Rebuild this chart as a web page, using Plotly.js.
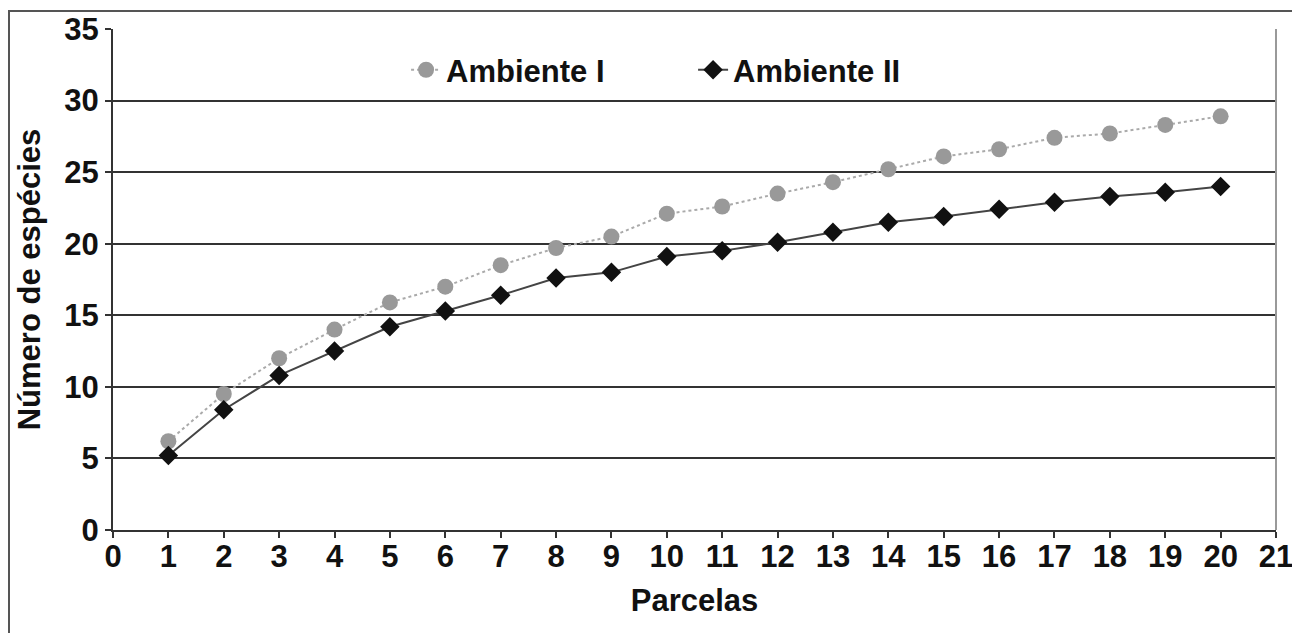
<!DOCTYPE html>
<html>
<head>
<meta charset="utf-8">
<script src="https://cdn.plot.ly/plotly-3.0.1.min.js"></script>
<style>
  html, body { margin: 0; padding: 0; background: #fff; overflow: hidden; }
  #frame { position: absolute; left: 8px; top: 10px; width: 1290px; height: 640px; border: 2px solid #555; box-sizing: border-box; pointer-events: none; z-index: 5; }
  #chart { position: absolute; left: 0; top: 0; width: 1292px; height: 633px; }
</style>
</head>
<body>
<div id="chart"></div>
<div id="frame"></div>
<script>
const parcelas = [1,2,3,4,5,6,7,8,9,10,11,12,13,14,15,16,17,18,19,20];
const ambienteI = [6.2,9.5,12.0,14.0,15.9,17.0,18.5,19.7,20.5,22.1,22.6,23.5,24.3,25.2,26.1,26.6,27.4,27.7,28.3,28.9];
const ambienteII = [5.2,8.4,10.8,12.5,14.2,15.3,16.4,17.6,18.0,19.1,19.5,20.1,20.8,21.5,21.9,22.4,22.9,23.3,23.6,24.0];
const xTicks = [0,1,2,3,4,5,6,7,8,9,10,11,12,13,14,15,16,17,18,19,20,21];
const yTicks = [0,5,10,15,20,25,30,35];

const font = {family: 'Liberation Sans, Arial, sans-serif', size: 31, color: '#111', weight: 700};

const traces = [
  {
    x: parcelas, y: ambienteI, name: 'Ambiente I', type: 'scatter', mode: 'lines+markers',
    line: {color: '#aaaaaa', width: 2, dash: 'dot'},
    marker: {symbol: 'circle', size: 16, color: '#999999'}
  },
  {
    x: parcelas, y: ambienteII, name: 'Ambiente II', type: 'scatter', mode: 'lines+markers',
    line: {color: '#444444', width: 2},
    marker: {symbol: 'diamond', size: 15, color: '#111111'}
  }
];

const layout = {
  width: 1292, height: 633,
  margin: {l: 113, r: 16, t: 29, b: 103},
  paper_bgcolor: '#ffffff', plot_bgcolor: '#ffffff',
  font: font,
  showlegend: true,
  legend: {
    orientation: 'h', x: 0.252, y: 0.918, xanchor: 'left', yanchor: 'middle',
    bgcolor: 'rgba(0,0,0,0)', font: font, itemwidth: 30, entrywidth: 242
  },
  xaxis: {
    range: [0, 21], tickvals: xTicks, ticktext: xTicks.map(String),
    showgrid: false, zeroline: false,
    showline: true, linecolor: '#333', linewidth: 2,
    ticks: 'outside', ticklen: 6, tickwidth: 2, tickcolor: '#333',
    tickfont: font, ticklabeloverflow: 'allow', ticklabelstandoff: -8,
    title: {text: 'Parcelas', font: font, standoff: 16}
  },
  yaxis: {
    range: [0, 35], tickvals: yTicks, ticktext: yTicks.map(String),
    showgrid: true, gridcolor: '#333', gridwidth: 2, zeroline: false,
    showline: true, linecolor: '#333', linewidth: 2,
    ticks: 'outside', ticklen: 6, tickwidth: 2, tickcolor: '#333',
    tickfont: font,
    title: {text: 'Número de espécies', font: font, standoff: 14}
  },
  shapes: [
    {type: 'line', xref: 'paper', yref: 'paper', x0: 1, x1: 1, y0: 0, y1: 1,
     line: {color: '#999', width: 2}}
  ]
};

Plotly.newPlot('chart', traces, layout, {displayModeBar: false, staticPlot: true});
</script>
</body>
</html>
